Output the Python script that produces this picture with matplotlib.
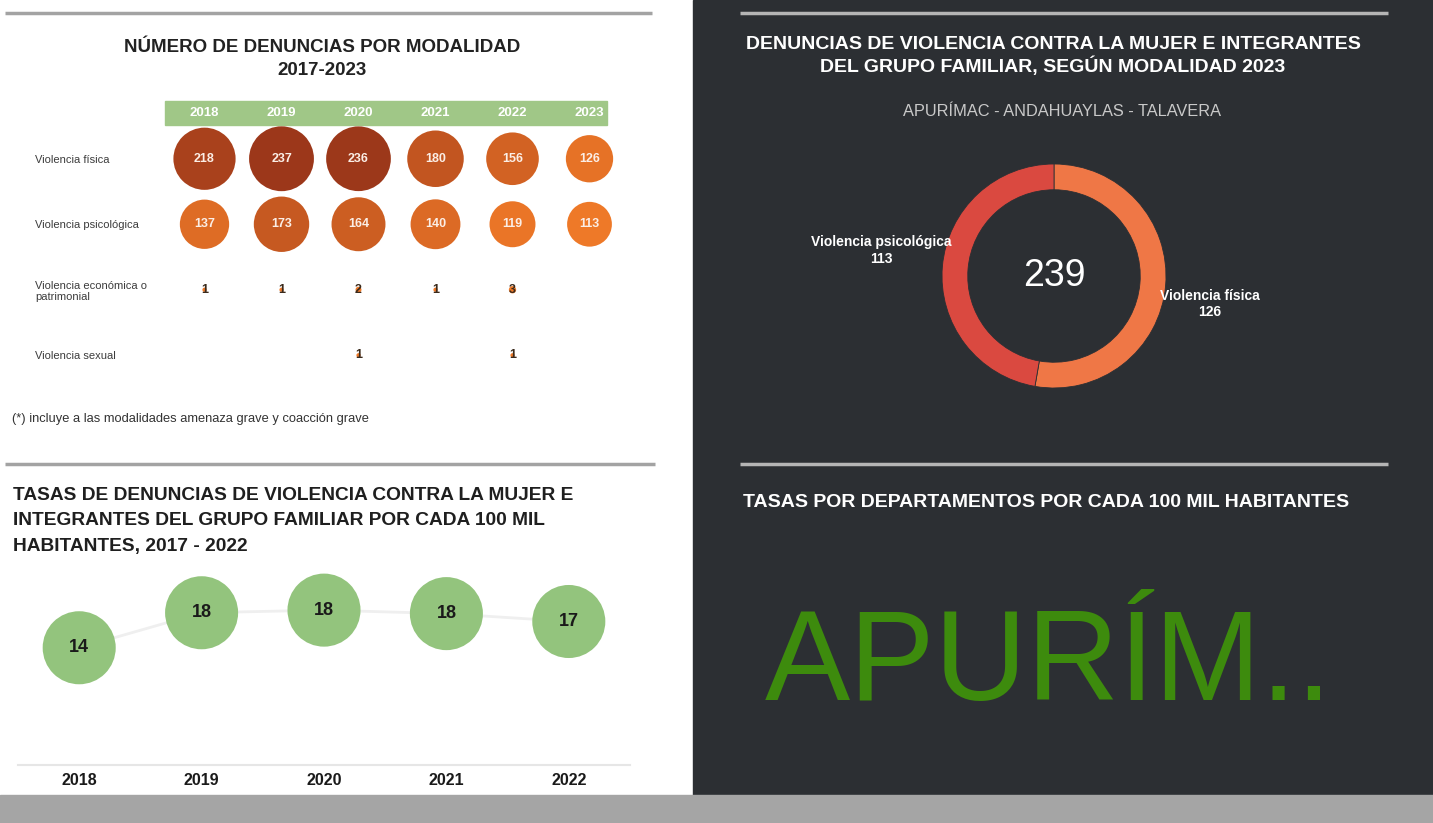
import numpy as np
import matplotlib.pyplot as plt
from matplotlib.colors import LinearSegmentedColormap, Normalize
from matplotlib.patches import Rectangle

plt.rcParams['font.family'] = ['Liberation Sans', 'DejaVu Sans']

# datos: denuncias por modalidad
anios = ['2018', '2019', '2020', '2021', '2022', '2023']
modalidades = ['Violencia física', 'Violencia psicológica',
               'Violencia económica o\npatrimonial', 'Violencia sexual']
fisica = [218, 237, 236, 180, 156, 126]
psicologica = [137, 173, 164, 140, 119, 113]
economica = [1, 1, 2, 1, 3, None]
sexual = [None, None, 1, None, 1, None]

# tasas por cada 100 mil habitantes
anios_tasa = ['2018', '2019', '2020', '2021', '2022']
tasas = [14.0, 18.0, 18.3, 17.9, 17.0]

# modalidad 2023
dona_labels = ['Violencia física', 'Violencia psicológica']
dona_values = [126, 113]
dona_label_pos = [(1.39, -0.25), (-1.54, 0.23)]

W, H = 1433, 823
DARK = '#2c2f33'
fig = plt.figure(figsize=(W / 100, H / 100), dpi=100)


def box(x0, y0, x1, y1):
    return [x0 / W, 1 - y1 / H, (x1 - x0) / W, (y1 - y0) / H]


# fondo del tablero
bg = fig.add_axes([0, 0, 1, 1])
bg.set_xlim(0, W)
bg.set_ylim(H, 0)
bg.axis('off')
bg.add_patch(Rectangle((693, 0), W - 693, 795, color=DARK))
bg.add_patch(Rectangle((0, 795), W, H - 795, color='#a5a5a5'))
for x0, x1, y, c in [(5, 652, 13, '#a3a3a3'), (5, 655, 464, '#a3a3a3'),
                     (740, 1388, 13, '#b5b5b5'), (740, 1388, 464, '#b5b5b5')]:
    bg.plot([x0, x1], [y, y], color=c, lw=2.5, solid_capstyle='butt')

# titulos
bg.text(322, 47, 'NÚMERO DE DENUNCIAS POR MODALIDAD', ha='center', va='center',
        fontsize=13.5, fontweight='bold', color='#222222')
bg.text(322, 70, '2017-2023', ha='center', va='center',
        fontsize=13.5, fontweight='bold', color='#222222')
bg.add_patch(Rectangle((165, 101), 442, 24, color='#a0c787'))
bg.text(12, 419, '(*) incluye a las modalidades amenaza grave y coacción grave',
        ha='left', va='center', fontsize=9.3, color='#333333')

for i, t in enumerate(['TASAS DE DENUNCIAS DE VIOLENCIA CONTRA LA MUJER E',
                       'INTEGRANTES DEL GRUPO FAMILIAR POR CADA 100 MIL',
                       'HABITANTES, 2017 - 2022']):
    bg.text(13, 495 + 25.5 * i, t, ha='left', va='center', fontsize=13.8,
            fontweight='bold', color='#1f1f1f')

bg.text(1053, 44, 'DENUNCIAS DE VIOLENCIA CONTRA LA MUJER E INTEGRANTES',
        ha='center', va='center', fontsize=14, fontweight='bold', color='white')
bg.text(1053, 66, 'DEL GRUPO FAMILIAR, SEGÚN MODALIDAD 2023',
        ha='center', va='center', fontsize=14, fontweight='bold', color='white')
bg.text(1062, 111, 'APURÍMAC - ANDAHUAYLAS - TALAVERA', ha='center', va='center',
        fontsize=11.8, color='#c9c9c9')
bg.text(743, 502, 'TASAS POR DEPARTAMENTOS POR CADA 100 MIL HABITANTES',
        ha='left', va='center', fontsize=14, fontweight='bold', color='white')
bg.text(765, 700, 'APURÍM..', ha='left', va='baseline', fontsize=92,
        color='#3d8b0d')

# burbujas por modalidad
ax1 = fig.add_axes(box(166, 126, 628, 388))
ax1.patch.set_visible(False)
ax1.set_xlim(-0.5, 5.5)
ax1.set_ylim(3.5, -0.5)
cmap = LinearSegmentedColormap.from_list('naranja', ['#f07a28', '#9a361a'])
norm = Normalize(110, 240)
for r, vals in enumerate([fisica, psicologica, economica, sexual]):
    for c, v in enumerate(vals):
        if v is None:
            continue
        ax1.scatter(c, r, s=v * 9.2, color=cmap(norm(v)), edgecolors='none', zorder=2)
        ax1.text(c, r, str(v), ha='center', va='center', fontsize=9, fontweight='bold',
                 color='#fbeee6' if v > 10 else '#3a2a1c', zorder=3)
for sp in ax1.spines.values():
    sp.set_visible(False)
ax1.set_xticks(range(len(anios)), anios)
ax1.xaxis.tick_top()
ax1.set_yticks(range(len(modalidades)), modalidades)
ax1.tick_params(axis='x', length=0, pad=5, labelsize=9.5, labelcolor='white')
ax1.tick_params(axis='y', length=0, pad=94, labelsize=8, labelcolor='#3c3c3c')
for lab in ax1.get_xticklabels():
    lab.set_fontweight('bold')
for lab in ax1.get_yticklabels():
    lab.set_ha('left')

# tasas
ax2 = fig.add_axes(box(18, 569, 630, 765))
ax2.patch.set_visible(False)
x = np.arange(len(tasas))
ax2.plot(x, tasas, color='#efefef', lw=2, zorder=1)
ax2.scatter(x, tasas, s=2766, color='#93c47d', edgecolors='none', zorder=2)
for xi, v in zip(x, tasas):
    ax2.text(xi, v, f'{v:.0f}', ha='center', va='center', fontsize=13,
             fontweight='bold', color='#1a1a1a', zorder=3)
ax2.set_xlim(-0.5, 4.5)
ax2.set_ylim(0.6, 23)
ax2.set_yticks([])
for k in ['top', 'left', 'right']:
    ax2.spines[k].set_visible(False)
ax2.spines['bottom'].set_color('#e6e6e6')
ax2.spines['bottom'].set_linewidth(1.5)
ax2.set_xticks(x, anios_tasa)
ax2.tick_params(axis='x', length=0, pad=6, labelsize=11.5, labelcolor='#1a1a1a')
for lab in ax2.get_xticklabels():
    lab.set_fontweight('bold')

# dona 2023
ax3 = fig.add_axes(box(942, 164, 1166, 388))
wedges, _ = ax3.pie(dona_values, colors=['#ef7746', '#da4940'], startangle=90,
                    counterclock=False,
                    wedgeprops=dict(width=0.23, edgecolor=DARK, linewidth=0.6))
ax3.set_xlim(-1, 1)
ax3.set_ylim(-1, 1)
ax3.text(0, 0, str(sum(dona_values)), ha='center', va='center', fontsize=27,
         color='white')
for (lx, ly), lab, v in zip(dona_label_pos, dona_labels, dona_values):
    ax3.text(lx, ly, f'{lab}\n{v}', ha='center', va='center', fontsize=10,
             fontweight='bold', color='white', linespacing=1.25, clip_on=False)

fig.savefig('out.png', dpi=100)
